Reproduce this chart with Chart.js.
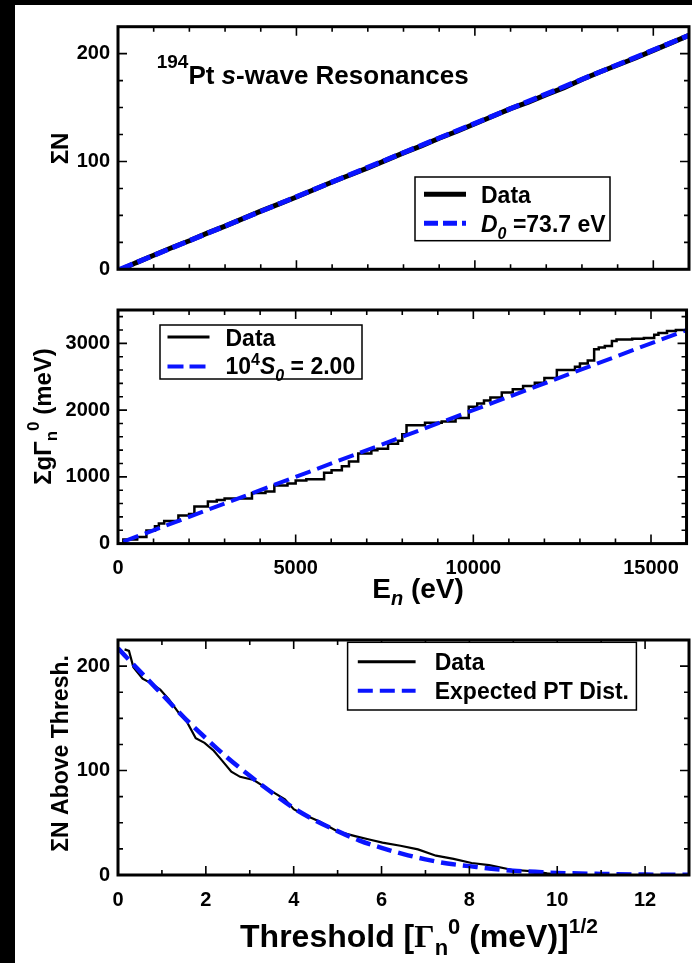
<!DOCTYPE html>
<html>
<head>
<meta charset="utf-8">
<script src="https://cdn.jsdelivr.net/npm/chart.js@4.4.1/dist/chart.umd.min.js"></script>
<style>
html, body { margin: 0; padding: 0; background: #000; width: 692px; height: 963px; overflow: hidden; }
#sheet { position: absolute; left: 15px; top: 5px; width: 677px; height: 958px; background: #fff; }
canvas { position: absolute; left: 15px; }
</style>
</head>
<body>
<div id="sheet"></div>
<canvas id="c1" width="677" height="285" style="top:5px"></canvas>
<canvas id="c2" width="677" height="330" style="top:290px"></canvas>
<canvas id="c3" width="677" height="343" style="top:620px"></canvas>
<script>
// panel 1: cumulative number of s-wave resonances
const p1DataE = [100, 500, 1000, 1500, 2000, 2500, 3000, 3500, 4000, 4500, 5000, 5500, 6000, 6500, 7000, 7500, 8000,
    8500, 9000, 9500, 10000, 10500, 11000, 11500, 12000, 12500, 13000, 13500, 14000, 14500, 15000, 15500, 16000];
const p1DataN = [0, 6, 13, 20, 26.5, 33.5, 40, 47, 54, 60.5, 67, 74, 81, 87.5, 94, 101, 108,
    114.5, 121.5, 128, 135, 142, 149, 155, 162, 168.5, 176, 183, 189.5, 196, 203, 210, 217];
const p1FitE = [50, 16000];
const p1FitN = [0, 217];
const p1XTicks = [0, 5000, 10000, 15000];
const p1YTicks = [0, 100, 200];

// panel 2: cumulative reduced neutron width
const p2StepE = [150, 540, 800, 1040, 1150, 1300, 1700, 2000, 2150, 2530, 2780, 3000, 3770, 4150, 4400, 4770, 5000,
    5300, 5800, 6010, 6300, 6500, 6760, 7130, 7300, 7600, 7880, 8000, 8120, 8640, 9110, 9500, 9870, 10110, 10300,
    10480, 10800, 11110, 11400, 11730, 12000, 12350, 12860, 13000, 13220, 13400, 13530, 13700, 13900, 14030, 14470,
    14800, 15090, 15210, 15450, 15700, 16000];
const p2StepS = [0, 62, 100, 196, 260, 300, 340, 420, 445, 557, 630, 653, 677, 759, 780, 870, 900,
    945, 965, 1062, 1100, 1158, 1230, 1350, 1400, 1420, 1495, 1540, 1640, 1773, 1810, 1830, 1880, 2050, 2100,
    2145, 2190, 2265, 2313, 2360, 2410, 2480, 2600, 2650, 2700, 2745, 2913, 2940, 2960, 3035, 3058,
    3070, 3080, 3130, 3154, 3185, 3202];
const p2FitE = [150, 16000];
const p2FitS = [30, 3200];
const p2XTicks = [0, 5000, 10000, 15000];
const p2YTicks = [0, 1000, 2000, 3000];

// panel 3: number of resonances above threshold
const p3DataT = [0.15, 0.25, 0.35, 0.56, 0.76, 0.96, 1.16, 1.37, 1.57, 1.77, 1.97, 2.18, 2.37, 2.58, 2.78, 3.09,
    3.39, 3.8, 4.0, 4.2, 4.6, 5.01, 5.42, 5.72, 6.02, 6.43, 6.83, 7.24, 7.64, 8.05, 8.45, 8.96, 9.47, 9.77, 10.07, 13];
const p3DataN = [216, 214.5, 199, 188, 183.5, 177.5, 168, 156, 146.5, 131, 126.5, 119, 109.5, 99, 94, 91,
    83, 72.5, 63, 58.5, 51, 41.5, 37, 34, 31, 28, 24.5, 18.5, 15.5, 11.5, 9.5, 5, 3.5, 1.5, 0, 0];
const p3PtT = [0, 0.5, 1, 1.5, 2, 2.5, 3, 3.5, 4, 4.5, 5, 5.5, 6, 6.5, 7, 7.5, 8, 8.5, 9, 9.5, 10, 11, 12, 13];
const p3PtN = [217, 195, 173, 151, 131, 112, 95, 79, 64, 52, 42, 33, 26, 20, 15, 11, 8.5, 6, 4, 3, 2, 1, 0.4, 0.2];
const p3XTicks = [0, 2, 4, 6, 8, 10, 12];
const p3YTicks = [0, 100, 200];

const FONT = '"Liberation Sans", Arial, Helvetica, sans-serif';
const SERIF = '"Liberation Serif", "Times New Roman", serif';
const BLUE = '#0a14ff';

const pts = (xs, ys) => xs.map((x, i) => ({ x: x, y: ys[i] }));

function fontOf(p) {
    return (p.italic ? 'italic ' : '') + 'bold ' + p.size + 'px ' + (p.family || FONT);
}

function drawRich(ctx, item) {
    ctx.save();
    ctx.translate(item.x, item.y);
    if (item.rot) ctx.rotate(item.rot);
    ctx.fillStyle = '#000';
    ctx.textAlign = 'left';
    ctx.textBaseline = 'alphabetic';
    let total = 0;
    item.parts.forEach(p => {
        ctx.font = fontOf(p);
        total += ctx.measureText(p.t).width + (p.gap || 0);
    });
    let cx = item.align === 'center' ? -total / 2 : 0;
    item.parts.forEach(p => {
        ctx.font = fontOf(p);
        ctx.fillText(p.t, cx, p.dy || 0);
        cx += ctx.measureText(p.t).width + (p.gap || 0);
    });
    ctx.restore();
}

function minorList(min, max, step, majors) {
    const out = [];
    for (let v = min; v <= max + 1e-9; v += step) {
        if (!majors.some(m => Math.abs(m - v) < 1e-9)) out.push(v);
    }
    return out;
}

const decor = {
    id: 'decor',
    afterDatasetsDraw(chart, args, o) {
        const ctx = chart.ctx, a = chart.chartArea;
        const xs = chart.scales.x, ys = chart.scales.y;

        // inward ticks on all four sides
        ctx.save();
        ctx.strokeStyle = '#000';
        ctx.lineWidth = 1.6;
        ctx.beginPath();
        const xTick = (vals, len) => vals.forEach(v => {
            const px = xs.getPixelForValue(v);
            ctx.moveTo(px, a.bottom); ctx.lineTo(px, a.bottom - len);
            ctx.moveTo(px, a.top); ctx.lineTo(px, a.top + len);
        });
        const yTick = (vals, len) => vals.forEach(v => {
            const py = ys.getPixelForValue(v);
            ctx.moveTo(a.left, py); ctx.lineTo(a.left + len, py);
            ctx.moveTo(a.right, py); ctx.lineTo(a.right - len, py);
        });
        xTick(o.xMajor, 9);
        xTick(minorList(xs.min, xs.max, o.xMinorStep, o.xMajor), 5);
        yTick(o.yMajor, 9);
        yTick(minorList(ys.min, ys.max, o.yMinorStep, o.yMajor), 5);
        ctx.stroke();
        ctx.lineWidth = 3;
        ctx.strokeRect(a.left, a.top, a.right - a.left, a.bottom - a.top);

        // legend box
        const lg = o.legend;
        ctx.lineWidth = 1.5;
        ctx.fillStyle = '#fff';
        ctx.fillRect(lg.box[0], lg.box[1], lg.box[2] - lg.box[0], lg.box[3] - lg.box[1]);
        ctx.strokeRect(lg.box[0], lg.box[1], lg.box[2] - lg.box[0], lg.box[3] - lg.box[1]);
        lg.rows.forEach(r => {
            ctx.beginPath();
            ctx.strokeStyle = r.color;
            ctx.lineWidth = r.width;
            ctx.setLineDash(r.dash || []);
            ctx.moveTo(lg.lineX[0], r.y);
            ctx.lineTo(lg.lineX[1], r.y);
            ctx.stroke();
            ctx.setLineDash([]);
            drawRich(ctx, { x: lg.textX, y: r.textY, parts: r.parts });
        });
        ctx.restore();

        (o.texts || []).forEach(t => drawRich(ctx, t));
    }
};

function baseOptions(cfg) {
    return {
        responsive: false,
        animation: false,
        layout: { padding: { left: 0, right: 3, top: cfg.padTop, bottom: 0 } },
        plugins: {
            legend: { display: false },
            tooltip: { enabled: false },
            decor: cfg.decor
        },
        scales: {
            x: {
                type: 'linear',
                min: cfg.xMin, max: cfg.xMax,
                grid: { display: false, drawTicks: false },
                border: { display: false },
                ticks: {
                    display: cfg.xLabels,
                    color: '#000',
                    padding: 13,
                    maxRotation: 0,
                    font: { family: FONT, size: 20, weight: 'bold' },
                    callback: v => String(v)
                },
                afterBuildTicks: s => { s.ticks = cfg.xTicks.map(v => ({ value: v })); },
                afterFit: s => { s.height = cfg.xHeight; }
            },
            y: {
                type: 'linear',
                min: cfg.yMin, max: cfg.yMax,
                grid: { display: false, drawTicks: false },
                border: { display: false },
                ticks: {
                    color: '#000',
                    padding: 8,
                    font: { family: FONT, size: 20, weight: 'bold' },
                    callback: v => String(v)
                },
                afterBuildTicks: s => { s.ticks = cfg.yTicks.map(v => ({ value: v })); },
                afterFit: s => { s.width = 103; }
            }
        }
    };
}

Chart.register(decor);

// panel 1
new Chart(document.getElementById('c1'), {
    type: 'line',
    data: {
        datasets: [{
            label: 'D0 = 73.7 eV',
            data: pts(p1FitE, p1FitN),
            borderColor: BLUE,
            borderWidth: 5,
            borderDash: [14, 5],
            pointRadius: 0,
            order: 0
        }, {
            label: 'Data',
            data: pts(p1DataE, p1DataN),
            borderColor: '#000',
            borderWidth: 5,
            pointRadius: 0,
            order: 1
        }]
    },
    options: baseOptions({
        padTop: 21.7, xMin: 0, xMax: 16000, yMin: 0, yMax: 225,
        xTicks: p1XTicks, yTicks: p1YTicks, xLabels: false, xHeight: 20.7,
        decor: {
            xMajor: p1XTicks, xMinorStep: 1000, yMajor: p1YTicks, yMinorStep: 25,
            legend: {
                box: [400, 172, 595, 235.7], lineX: [409, 451], textX: 466,
                rows: [
                    { color: '#000', width: 5, y: 189.3, textY: 197.5, parts: [{ t: 'Data', size: 23 }] },
                    { color: BLUE, width: 5, dash: [14, 5], y: 218.3, textY: 227,
                      parts: [{ t: 'D', size: 23, italic: true }, { t: '0', size: 16, italic: true, dy: 7 },
                              { t: ' =73.7 eV', size: 23 }] }
                ]
            },
            texts: [
                { x: 141.7, y: 78.5, parts: [{ t: '194', size: 19, dy: -16 }, { t: 'Pt ', size: 26 },
                    { t: 's', size: 26, italic: true }, { t: '-wave Resonances', size: 26 }] },
                { x: 53, y: 143.5, rot: -Math.PI / 2, align: 'center', parts: [{ t: 'ΣN', size: 24 }] }
            ]
        }
    })
});

// panel 2
new Chart(document.getElementById('c2'), {
    type: 'line',
    data: {
        datasets: [{
            label: '10^4 S0 = 2.00',
            data: pts(p2FitE, p2FitS),
            borderColor: BLUE,
            borderWidth: 4,
            borderDash: [16, 7],
            pointRadius: 0,
            order: 0
        }, {
            label: 'Data',
            data: pts(p2StepE, p2StepS),
            borderColor: '#000',
            borderWidth: 2.5,
            stepped: 'after',
            pointRadius: 0,
            order: 1
        }]
    },
    options: baseOptions({
        padTop: 10, xMin: 0, xMax: 16000, yMin: 0, yMax: 3500,
        xTicks: p2XTicks, yTicks: p2YTicks, xLabels: true, xHeight: 76.4,
        decor: {
            xMajor: p2XTicks, xMinorStep: 1000, yMajor: p2YTicks, yMinorStep: 200,
            legend: {
                box: [145, 35, 347, 89], lineX: [152.5, 194.5], textX: 210.5,
                rows: [
                    { color: '#000', width: 3, y: 47, textY: 55.5, parts: [{ t: 'Data', size: 23 }] },
                    { color: BLUE, width: 4, dash: [16, 6], y: 76.5, textY: 83.5,
                      parts: [{ t: '10', size: 23 }, { t: '4', size: 16, dy: -9 },
                              { t: 'S', size: 23, italic: true }, { t: '0', size: 16, italic: true, dy: 7 },
                              { t: ' = 2.00', size: 23 }] }
                ]
            },
            texts: [
                { x: 403, y: 308, align: 'center', parts: [{ t: 'E', size: 28 }, { t: 'n', size: 20, italic: true, dy: 7 },
                    { t: ' (eV)', size: 28 }] },
                { x: 36, y: 126.5, rot: -Math.PI / 2, align: 'center', parts: [{ t: 'ΣgΓ', size: 24 },
                    { t: 'n', size: 17, dy: 6 }, { t: '0', size: 17, dy: -12 }, { t: ' (meV)', size: 24 }] }
            ]
        }
    })
});

// panel 3
new Chart(document.getElementById('c3'), {
    type: 'line',
    data: {
        datasets: [{
            label: 'Expected PT Dist.',
            data: pts(p3PtT, p3PtN),
            borderColor: BLUE,
            borderWidth: 4.5,
            borderDash: [15, 7],
            cubicInterpolationMode: 'monotone',
            pointRadius: 0,
            order: 0
        }, {
            label: 'Data',
            data: pts(p3DataT, p3DataN),
            borderColor: '#000',
            borderWidth: 2.2,
            pointRadius: 0,
            order: 1
        }]
    },
    options: baseOptions({
        padTop: 12.3, xMin: 0, xMax: 13, yMin: 0, yMax: 225,
        xTicks: p3XTicks, yTicks: p3YTicks, xLabels: true, xHeight: 88,
        decor: {
            xMajor: p3XTicks, xMinorStep: 1, yMajor: p3YTicks, yMinorStep: 25,
            legend: {
                box: [332.6, 22.3, 621.4, 90], lineX: [342.8, 400.6], textX: 419.7,
                rows: [
                    { color: '#000', width: 3, y: 41.7, textY: 49.5, parts: [{ t: 'Data', size: 23 }] },
                    { color: BLUE, width: 4, dash: [15, 7], y: 70.7, textY: 78.5, parts: [{ t: 'Expected PT Dist.', size: 23 }] }
                ]
            },
            texts: [
                { x: 404, y: 326.7, align: 'center', parts: [{ t: 'Threshold [', size: 32 },
                    { t: 'Γ', size: 32, family: SERIF }, { t: 'n', size: 22, dy: 8 }, { t: '0', size: 22, dy: -13 },
                    { t: ' (meV)]', size: 32 }, { t: '1/2', size: 21, dy: -14 }] },
                { x: 53.3, y: 133.4, rot: -Math.PI / 2, align: 'center', parts: [{ t: 'ΣN Above Thresh.', size: 23 }] }
            ]
        }
    })
});
</script>
</body>
</html>
